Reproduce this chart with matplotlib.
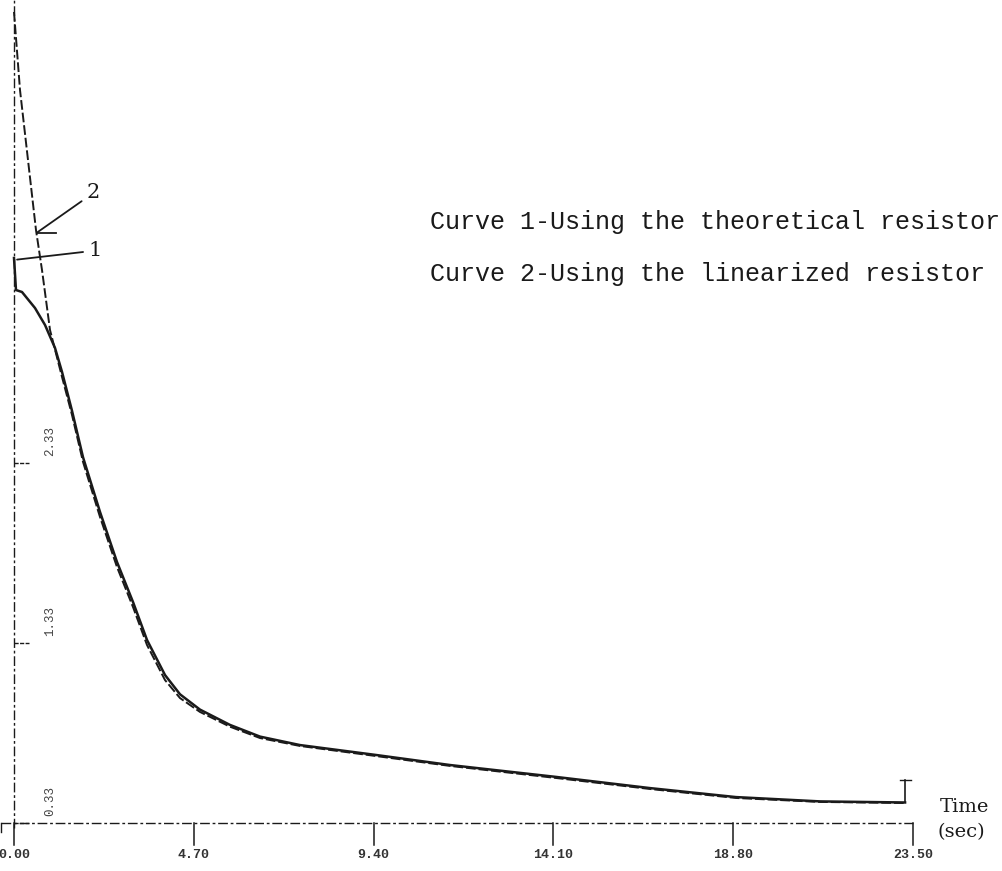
import matplotlib.pyplot as plt

# time axis ticks (sec) and the y tick positions
x_ticks = [0.00, 4.70, 9.40, 14.10, 18.80, 23.50]
x_tick_labels = ["0.00", "4.70", "9.40", "14.10", "18.80", "23.50"]
y_ticks = [0.0, 1.0, 2.0]
y_tick_labels = ["0.33", "1.33", "2.33"]

# Curve 1 - theoretical resistor
t1 = [0.000, 0.052, 0.209, 0.549, 0.810, 1.072, 1.255, 1.516, 1.804, 2.248,
      2.692, 3.110, 3.476, 3.947, 4.339, 4.861, 5.645, 6.430, 7.475, 9.461,
      11.40, 14.17, 16.62, 18.87, 21.07, 23.29]
y1 = [3.139, 2.961, 2.950, 2.861, 2.767, 2.639, 2.506, 2.290, 2.032, 1.728,
      1.450, 1.228, 1.017, 0.822, 0.715, 0.630, 0.545, 0.480, 0.433, 0.378,
      0.322, 0.256, 0.194, 0.144, 0.120, 0.114]

# Curve 2 - linearized resistor
t2 = [0.000, 0.157, 0.366, 0.575, 0.732, 0.941, 1.255, 1.516, 1.804, 2.248,
      2.692, 3.110, 3.476, 3.947, 4.339, 4.861, 5.645, 6.430, 7.475, 9.461,
      11.40, 14.17, 16.62, 18.87, 21.07, 23.29]
y2 = [4.506, 4.072, 3.683, 3.294, 3.072, 2.739, 2.478, 2.267, 2.006, 1.700,
      1.422, 1.200, 0.989, 0.794, 0.694, 0.617, 0.535, 0.472, 0.428, 0.372,
      0.317, 0.250, 0.189, 0.139, 0.117, 0.111]

fig = plt.figure(figsize=(10.02, 8.71), dpi=100)
ax = fig.add_axes([0, 0, 1, 1])
ax.set_xlim(-14 / 38.26, (1002 - 14) / 38.26)
ax.set_ylim(-(871 - 823) / 180, 823 / 180)
ax.axis("off")

ink = "#1a1a1a"
axis_ls = (0, (7, 2, 2, 2))

# axes, drawn by hand like the old plotter
ax.plot([0, 0], [-0.03, 4.6], color=ink, lw=1.0, ls=axis_ls)
ax.plot([-0.35, 23.5], [0, 0], color=ink, lw=1.0, ls=axis_ls)
for xt in x_ticks:
    ax.plot([xt, xt], [0, -0.12], color=ink, lw=1.1)
for yt in y_ticks:
    ax.plot([0, 0.4], [yt, yt], color=ink, lw=1.0, ls=(0, (3, 1)))
ax.plot([-0.35, -0.35], [0, -0.05], color=ink, lw=1.0)

for xt, lab in zip(x_ticks, x_tick_labels):
    ax.text(xt, -0.18, lab, ha="center", va="center", fontsize=9.5,
            family="Liberation Mono", color="#333333", weight="bold")
for yt, lab in zip(y_ticks, y_tick_labels):
    ax.text(0.95, yt + 0.12, lab, ha="center", va="center", fontsize=9,
            family="Liberation Mono", color="#444444", rotation=90)

# curves
ax.plot(t1, y1, color=ink, lw=1.8)
ax.plot(t2, y2, color=ink, lw=1.4, ls=(0, (5, 1.5)))

# end marker
ax.plot([23.29, 23.29], [0.114, 0.24], color=ink, lw=1.2)
ax.plot([23.15, 23.45], [0.24, 0.24], color=ink, lw=1.0)

# curve labels with leaders
ax.annotate("2", xy=(0.60, 3.28), xytext=(1.90, 3.50), fontsize=15,
            family="DejaVu Serif", color=ink, ha="left", va="center",
            arrowprops=dict(arrowstyle="-", color=ink, lw=1.3,
                            shrinkA=2, shrinkB=0))
ax.plot([0.60, 1.10], [3.28, 3.28], color=ink, lw=1.3)
ax.annotate("1", xy=(0.08, 3.13), xytext=(1.95, 3.18), fontsize=15,
            family="DejaVu Serif", color=ink, ha="left", va="center",
            arrowprops=dict(arrowstyle="-", color=ink, lw=1.3,
                            shrinkA=2, shrinkB=0))

ax.text(10.88, 3.34, "Curve 1-Using the theoretical resistor", fontsize=18,
        family="Liberation Mono", color=ink, ha="left", va="center")
ax.text(10.88, 3.05, "Curve 2-Using the linearized resistor", fontsize=18,
        family="Liberation Mono", color=ink, ha="left", va="center")

ax.text(24.2, 0.09, "Time", fontsize=14, family="DejaVu Serif", color=ink,
        ha="left", va="center")
ax.text(24.15, -0.05, "(sec)", fontsize=14, family="DejaVu Serif", color=ink,
        ha="left", va="center")

fig.savefig("out.png", dpi=100, facecolor="white")
